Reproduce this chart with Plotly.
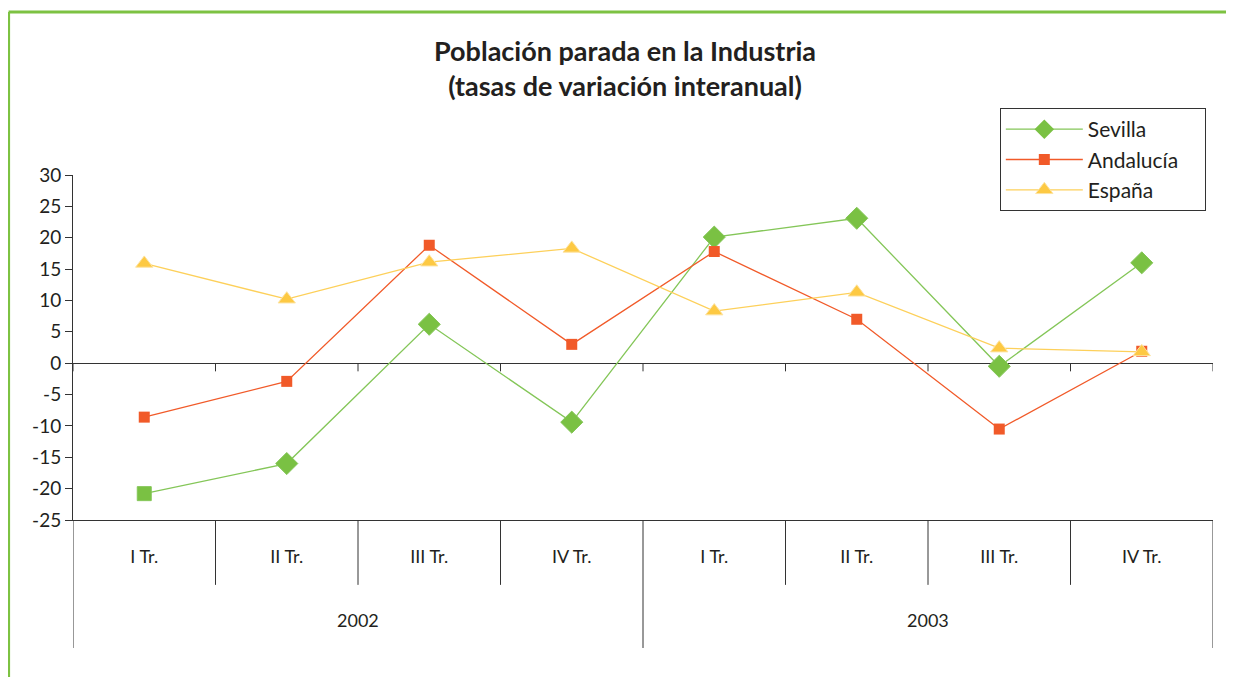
import plotly.graph_objects as go

quarters = ["I Tr.", "II Tr.", "III Tr.", "IV Tr.", "I Tr.", "II Tr.", "III Tr.", "IV Tr."]
years = ["2002", "2003"]
sevilla = [-20.8, -16.0, 6.2, -9.4, 20.1, 23.1, -0.5, 16.0]
andalucia = [-8.6, -2.9, 18.8, 3.0, 17.8, 7.0, -10.5, 1.9]
espana = [15.9, 10.2, 16.1, 18.3, 8.3, 11.3, 2.4, 1.8]
y_ticks = [30, 25, 20, 15, 10, 5, 0, -5, -10, -15, -20, -25]

FONT = "Lato, 'Open Sans', sans-serif"
TXT = "#231f20"
GREEN, ORANGE, YELLOW = "#7ac143", "#f15a29", "#fdc943"
PAD = "\u00a0" * 4  # right padding inside the legend box
xs = list(range(len(quarters)))

fig = go.Figure()
sev_symbols = ["square"] + ["diamond"] * (len(sevilla) - 1)
sev_sizes = [14] + [17] * (len(sevilla) - 1)
fig.add_trace(go.Scatter(x=xs, y=sevilla, name="Sevilla", mode="lines+markers",
                         legendgroup="sev", showlegend=False,
                         line=dict(color="#84c658", width=1.3),
                         marker=dict(symbol=sev_symbols, size=sev_sizes, color=GREEN,
                                     opacity=1)))
# legend entry for Sevilla (diamond symbol)
fig.add_trace(go.Scatter(x=[None], y=[None], name="Sevilla" + PAD, mode="lines+markers",
                         legendgroup="sev",
                         line=dict(color="#84c658", width=1.3),
                         marker=dict(symbol="diamond", size=15, color=GREEN)))
fig.add_trace(go.Scatter(x=xs, y=andalucia, name="Andalucía" + PAD, mode="lines+markers",
                         line=dict(color=ORANGE, width=1.3),
                         marker=dict(symbol="square", size=11, color=ORANGE)))
fig.add_trace(go.Scatter(x=xs, y=espana, name="España" + PAD, mode="lines+markers",
                         line=dict(color="#fdd05a", width=1.3),
                         marker=dict(symbol="triangle-up", size=15, color=YELLOW,
                                     line=dict(color="#fde3a0", width=1))))

shapes = []
n = len(quarters)
# zero-line tick marks at category boundaries
for i in range(-1, n):
    shapes.append(dict(type="line", xref="x", yref="y", x0=i + 0.5, x1=i + 0.5,
                       y0=0, y1=-1.3, line=dict(color="#333", width=1)))
# category separators below the plot
for i in range(0, n - 1):
    if i == 3:
        continue
    shapes.append(dict(type="line", xref="x", yref="paper", x0=i + 0.5, x1=i + 0.5,
                       y0=0, y1=-0.188, line=dict(color="#333", width=1)))
for b in [-0.5, 3.5, n - 0.5]:
    shapes.append(dict(type="line", xref="x", yref="paper", x0=b, x1=b,
                       y0=0, y1=-0.371, line=dict(color="#333", width=1)))
# green page border (top and left)
shapes.append(dict(type="line", xref="paper", yref="paper", x0=-0.0565, x1=1.03,
                   y0=1.4725, y1=1.4725, line=dict(color="#7dc242", width=3)))
shapes.append(dict(type="line", xref="paper", yref="paper", x0=-0.0565, x1=-0.0565,
                   y0=1.4725, y1=-0.47, line=dict(color="#7dc242", width=3)))

annotations = []
for k, yr in enumerate(years):
    annotations.append(dict(x=1.5 + 4 * k, xref="x", y=-0.29, yref="paper",
                            yanchor="middle", text=yr, showarrow=False,
                            font=dict(family=FONT, size=18, color=TXT)))

fig.update_layout(
    width=1226, height=669,
    margin=dict(l=65, r=21, t=167, b=157),
    paper_bgcolor="white", plot_bgcolor="white",
    title=dict(text="<b>Población parada en la Industria</b><br><b>(tasas de variación interanual)</b>",
               x=0.5033, xref="container", xanchor="center",
               y=0.9215, yref="container", yanchor="middle",
               font=dict(family=FONT, size=27, color=TXT)),
    showlegend=True,
    legend=dict(x=0.813, y=1.194, xanchor="left", yanchor="top",
                bordercolor="#333", borderwidth=1, bgcolor="white",
                font=dict(family=FONT, size=21, color=TXT),
                tracegroupgap=0, itemwidth=77),
    xaxis=dict(range=[-0.5, n - 0.5], tickvals=xs, ticktext=quarters,
               showgrid=False, zeroline=False, showline=True, linecolor="#333",
               linewidth=1, ticks="", ticklabelstandoff=20,
               tickfont=dict(family=FONT, size=18, color=TXT)),
    yaxis=dict(range=[-25, 30], tickvals=y_ticks, ticktext=[str(v) for v in y_ticks],
               showgrid=False,
               zeroline=True, zerolinecolor="#333", zerolinewidth=1,
               showline=True, linecolor="#333", linewidth=1,
               ticks="outside", ticklen=7, tickcolor="#333",
               tickfont=dict(family=FONT, size=19, color=TXT)),
    shapes=shapes, annotations=annotations,
)

fig.write_html("out.html")
